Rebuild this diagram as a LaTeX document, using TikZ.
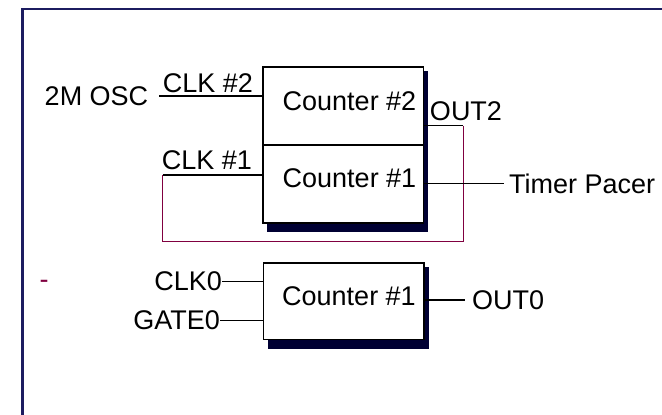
\documentclass[tikz,border=0pt]{standalone}
\usepackage{fontspec}
\setmainfont{Liberation Sans}
\usetikzlibrary{backgrounds}
\definecolor{framenavy}{RGB}{28,28,96}
\definecolor{shadownavy}{RGB}{0,0,51}
\definecolor{loopred}{RGB}{128,0,64}

\begin{document}
\begin{tikzpicture}[x=1pt,y=-1pt,
    every node/.style={inner sep=0pt,font=\fontsize{27}{31}\selectfont},
    counterbox/.style={draw,line width=1.6pt,fill=white,minimum width=160.5pt,minimum height=78pt},
    wire/.style={line width=1.2pt},
    loopwire/.style={line width=1.3pt,loopred}]
    \useasboundingbox (0,0) rectangle (662,415);
    \draw[framenavy,line width=2.2pt] (22.5,420) -- (22.5,9) -- (670,9);

    % counters
    \node[counterbox] (box2) at (343.25,106) {};
    \node[counterbox] (box1) at (343.25,184) {};
    \node[counterbox,minimum height=76.6pt] (box0) at (343.65,301) {};
    \begin{scope}[on background layer]
        \fill[shadownavy] ([shift={(5,5)}]box2.north west) rectangle ([shift={(3.5,8)}]box1.south east);
        \fill[shadownavy] ([shift={(5,5)}]box0.north west) rectangle ([shift={(4,9)}]box0.south east);
    \end{scope}
    \node (cnt2) at (349.5,101.7) {Counter \#2};
    \node (cnt1) at (349.5,178) {Counter \#1};
    \node (cnt0) at (349,296.7) {Counter \#1};

    % labels
    \node (osc) at (96.5,96) {2M OSC};
    \node (clk2) at (208,83) {CLK \#2};
    \node (clk1) at (207,160) {CLK \#1};
    \node (out2) at (466,111.7) {OUT2};
    \node[anchor=west] (pacer) at (509,183.5) {Timer Pacer};
    \node[anchor=east] (clk0) at (222,281.7) {CLK0};
    \node[anchor=east] (gate0) at (220,320.5) {GATE0};
    \node[anchor=west] (out0) at (472,300) {OUT0};
    \node[anchor=base,loopred] (dash) at (44,288) {-};

    % wires
    \coordinate (o2) at (463.3,125.7);
    \coordinate (c1) at (162.7,175);
    \draw[wire] ([xshift=11pt]osc.east) -- (osc.east -| box2.west);
    \draw[wire] (o2 -| box2.east) -- (o2);
    \draw[loopwire] (o2) -- ++(0,116) -| (c1);
    \draw[wire] (c1) -- (c1 -| box1.west);
    \draw[wire] (pacer.west -| box1.east) -- ([xshift=-5pt]pacer.west);
    \draw[wire] (clk0.east) -- (clk0.east -| box0.west);
    \draw[wire] (gate0.east) -- (gate0.east -| box0.west);
    \draw[wire] (out0.west -| box0.east) -- ([xshift=-7pt]out0.west);
\end{tikzpicture}
\end{document}
